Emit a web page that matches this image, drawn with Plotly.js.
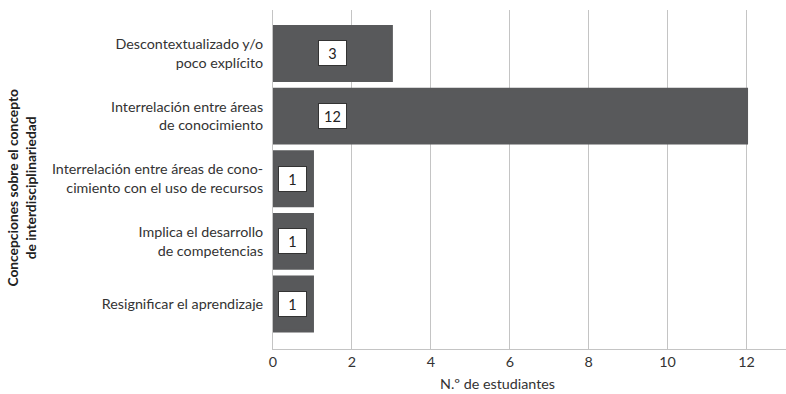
<!DOCTYPE html>
<html>
<head>
<meta charset="utf-8">
<script src="https://cdn.plot.ly/plotly-3.0.1.min.js"></script>
<style>
  html, body { margin: 0; padding: 0; background: #ffffff; overflow: hidden; }
  #chart { width: 786px; height: 394px; }
</style>
</head>
<body>
<div id="chart"></div>
<script>
// Conceptions of interdisciplinarity, listed top to bottom
const categories = [
  "Descontextualizado y/o<br>poco explícito",
  "Interrelación entre áreas<br>de conocimiento",
  "Interrelación entre áreas de cono-<br>cimiento con el uso de recursos",
  "Implica el desarrollo<br>de competencias",
  "Resignificar el aprendizaje"
];
const students = [3, 12, 1, 1, 1];
const xTicks = [0, 2, 4, 6, 8, 10, 12];

const FONT = "Lato, 'Noto Sans', sans-serif";
const TEXT = "#333333";
const GRID = "#c4c4c4";
const BAR = "#58595b";

const trace = {
  type: "bar",
  orientation: "h",
  y: categories,
  x: students,
  marker: { color: BAR, line: { width: 3, color: BAR } },
  hoverinfo: "skip"
};

// Value boxes sit inside each bar, near its base
const valueBoxes = students.map((v, i) => ({
  xref: "x", yref: "y",
  x: Math.min(v, 3) / 2,
  y: categories[i],
  text: String(v),
  showarrow: false,
  font: { family: FONT, size: 14.5, color: "#222222" },
  bgcolor: "#ffffff",
  bordercolor: "#333333",
  borderwidth: 1,
  borderpad: 0,
  width: 27,
  height: 24,
  xanchor: "center",
  yanchor: "middle"
}));

const layout = {
  width: 786,
  height: 394,
  margin: { l: 273, r: 0, t: 10, b: 45, pad: 0 },
  paper_bgcolor: "#ffffff",
  plot_bgcolor: "#ffffff",
  font: { family: FONT, size: 14.3, color: TEXT },
  showlegend: false,
  bargap: 0.14,
  xaxis: {
    range: [0, 13],
    tickvals: xTicks,
    ticktext: xTicks.map(String),
    showgrid: true,
    gridcolor: GRID,
    gridwidth: 1,
    zeroline: false,
    showline: true,
    linecolor: GRID,
    linewidth: 1,
    ticks: "",
    tickfont: { family: FONT, size: 14.3, color: TEXT },
    fixedrange: true
  },
  yaxis: {
    type: "category",
    range: [4.718, -0.694],
    showgrid: false,
    zeroline: false,
    showline: true,
    linecolor: GRID,
    linewidth: 1,
    ticks: "",
    ticklabelstandoff: 6,
    tickfont: { family: FONT, size: 14.3, color: TEXT },
    fixedrange: true
  },
  annotations: valueBoxes.concat([
    {
      xref: "paper", yref: "paper",
      x: -0.49, y: 0.475,
      text: "<b>Concepciones sobre el concepto<br>de interdisciplinariedad</b>",
      textangle: -90,
      showarrow: false,
      xanchor: "center", yanchor: "middle",
      font: { family: FONT, size: 13.8, color: "#222222" }
    },
    {
      xref: "paper", yref: "paper",
      x: 0.437, y: -0.1003,
      text: "N.º de estudiantes",
      showarrow: false,
      xanchor: "center", yanchor: "middle",
      font: { family: FONT, size: 14.3, color: TEXT }
    }
  ])
};

Plotly.newPlot("chart", [trace], layout, { staticPlot: true, displayModeBar: false });
</script>
</body>
</html>
